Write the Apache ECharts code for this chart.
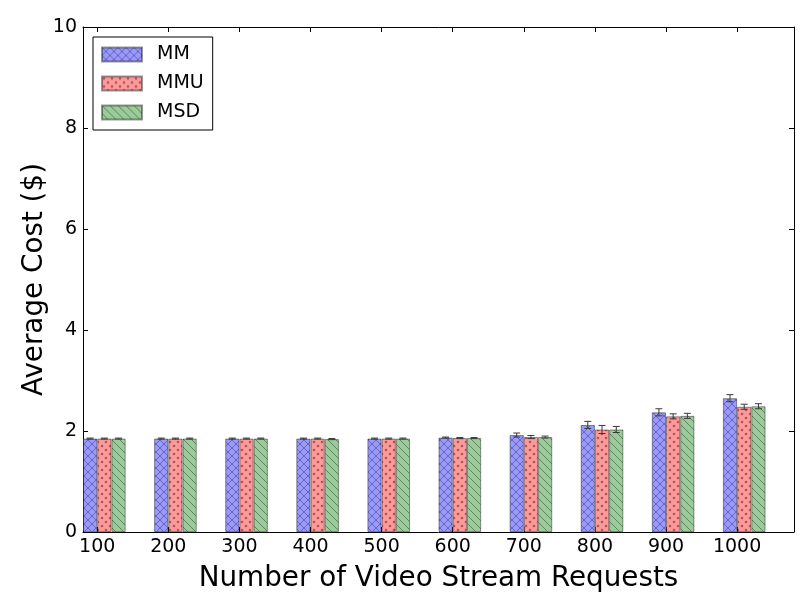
<!DOCTYPE html>
<html>
<head>
<meta charset="utf-8">
<script src="https://cdn.jsdelivr.net/npm/echarts@6/dist/echarts.min.js"></script>
<style>html,body{margin:0;padding:0;background:#fff}#c{width:812px;height:612px}</style>
</head>
<body>
<div id="c"></div>
<script>
// ---- data ----
var categories = ['100','200','300','400','500','600','700','800','900','1000'];
var seriesNames = ['MM','MMU','MSD'];
var mmValues  = [1.85,1.85,1.85,1.85,1.85,1.87,1.92,2.12,2.37,2.65];
var mmuValues = [1.85,1.85,1.85,1.85,1.85,1.86,1.88,2.03,2.29,2.48];
var msdValues = [1.85,1.85,1.85,1.84,1.85,1.86,1.88,2.03,2.30,2.49];
var mmErr  = [0.01,0.01,0.01,0.01,0.01,0.01,0.04,0.07,0.07,0.07];
var mmuErr = [0.01,0.01,0.01,0.01,0.01,0.01,0.03,0.08,0.05,0.05];
var msdErr = [0.01,0.01,0.01,0.01,0.01,0.01,0.02,0.06,0.05,0.05];
var yTicks = [0,2,4,6,8,10];

var FONT = 'DejaVu Sans';
var BAR_UNIT = 0.2;      // bar width in x-axis units
var BAR_PX = 71.1 * BAR_UNIT;

function makeTile(bg, draw) {
  var c = document.createElement('canvas');
  c.width = 8; c.height = 8;
  var g = c.getContext('2d');
  g.fillStyle = bg; g.fillRect(0,0,8,8);
  draw(g);
  return c;
}
var tileMM = makeTile('#9999ff', function(g){
  g.strokeStyle = '#6262a8'; g.lineWidth = 0.9;
  g.beginPath();
  g.moveTo(-1,-1); g.lineTo(9,9);
  g.moveTo(9,-1); g.lineTo(-1,9);
  g.stroke();
});
var tileMMU = makeTile('#ff9999', function(g){
  g.fillStyle = '#a35c5c';
  [[2,2],[6,6]].forEach(function(p){
    g.beginPath(); g.arc(p[0],p[1],1.3,0,Math.PI*2); g.fill();
  });
});
var tileMSD = makeTile('#99cc99', function(g){
  g.strokeStyle = '#5c7a5c'; g.lineWidth = 0.9;
  g.beginPath();
  g.moveTo(-1,-1); g.lineTo(9,9);
  g.moveTo(-1,7); g.lineTo(1,9);
  g.moveTo(7,-1); g.lineTo(9,1);
  g.stroke();
});

var values = [mmValues, mmuValues, msdValues];
var errs = [mmErr, mmuErr, msdErr];
var tiles = [tileMM, tileMMU, tileMSD];

var tickPos = categories.map(function(_, i){ return i + BAR_UNIT; });
var groupCenter = function(i){ return i + 1.5 * BAR_UNIT; };

var series = [];
seriesNames.forEach(function(name, k){
  series.push({
    name: name,
    type: 'bar',
    xAxisIndex: 0, yAxisIndex: 0,
    barWidth: BAR_PX,
    barGap: '0%',
    data: values[k].map(function(v, i){ return [groupCenter(i), v]; }),
    itemStyle: {
      color: { image: tiles[k], repeat: 'repeat' },
      borderColor: 'rgba(0,0,0,0.4)',
      borderWidth: 1
    },
    emphasis: { disabled: true },
    z: 2
  });
});
seriesNames.forEach(function(name, k){
  series.push({
    name: name + ' err',
    type: 'custom',
    xAxisIndex: 0, yAxisIndex: 0,
    data: values[k].map(function(v, i){ return [i, v, errs[k][i]]; }),
    renderItem: function(params, api){
      var i = api.value(0), v = api.value(1), e = api.value(2);
      var x = i + (k + 0.5) * BAR_UNIT;
      var top = api.coord([x, v + e]);
      var bot = api.coord([x, v - e]);
      var cap = 3.5;
      var st = { stroke: '#3a3a3a', lineWidth: 1 };
      return { type: 'group', children: [
        { type: 'line', shape: { x1: top[0], y1: top[1], x2: bot[0], y2: bot[1] }, style: st },
        { type: 'line', shape: { x1: top[0]-cap, y1: top[1], x2: top[0]+cap, y2: top[1] }, style: st },
        { type: 'line', shape: { x1: bot[0]-cap, y1: bot[1], x2: bot[0]+cap, y2: bot[1] }, style: st }
      ]};
    },
    z: 5,
    silent: true
  });
});

var axisLineStyle = { color: '#000', width: 1 };
var chart = echarts.init(document.getElementById('c'), null, { renderer: 'canvas' });
chart.setOption({
  animation: false,
  backgroundColor: '#fff',
  textStyle: { fontFamily: FONT },
  grid: { left: 83, right: 18, top: 27, bottom: 80, containLabel: false, outerBoundsMode: 'none' },
  legend: {
    data: seriesNames,
    orient: 'vertical',
    left: 93, top: 37,
    itemWidth: 40, itemHeight: 14, itemGap: 10,
    padding: [8, 9, 8, 8],
    backgroundColor: '#fff',
    borderColor: '#000', borderWidth: 1, borderRadius: 0,
    icon: 'rect',
    selectedMode: false,
    textStyle: { fontFamily: FONT, fontSize: 19, color: '#000', padding: [0,0,0,10], lineHeight: 19 }
  },
  xAxis: [{
    type: 'value', position: 'bottom', min: 0, max: categories.length,
    splitLine: { show: false },
    axisLine: { show: true, onZero: false, lineStyle: axisLineStyle },
    axisTick: { show: true, inside: true, length: 5, customValues: tickPos, lineStyle: { color: '#000' } },
    axisLabel: {
      customValues: tickPos, margin: 6,
      fontFamily: FONT, fontSize: 19, color: '#000',
      formatter: function(val){ return categories[Math.round(val - BAR_UNIT)]; }
    },
    name: 'Number of Video Stream Requests', nameLocation: 'middle', nameGap: 33,
    nameTextStyle: { fontFamily: FONT, fontSize: 27.8, color: '#000' }
  }, {
    type: 'value', position: 'top', min: 0, max: categories.length,
    splitLine: { show: false },
    axisLine: { show: true, onZero: false, lineStyle: axisLineStyle },
    axisTick: { show: true, inside: true, length: 5, customValues: tickPos, lineStyle: { color: '#000' } },
    axisLabel: { show: false }
  }],
  yAxis: [{
    type: 'value', position: 'left', min: 0, max: 10, interval: 2,
    splitLine: { show: false },
    axisLine: { show: true, onZero: false, lineStyle: axisLineStyle },
    axisTick: { show: true, inside: true, length: 5, lineStyle: { color: '#000' } },
    axisLabel: { margin: 6, fontFamily: FONT, fontSize: 19, color: '#000',
      formatter: function(v){ return yTicks.indexOf(v) >= 0 ? String(v) : ''; } },
    name: 'Average Cost ($)', nameLocation: 'middle', nameGap: 34, nameMoveOverlap: false,
    nameTextStyle: { fontFamily: FONT, fontSize: 27.8, color: '#000' }
  }, {
    type: 'value', position: 'right', min: 0, max: 10, interval: 2,
    splitLine: { show: false },
    axisLine: { show: true, onZero: false, lineStyle: axisLineStyle },
    axisTick: { show: true, inside: true, length: 5, lineStyle: { color: '#000' } },
    axisLabel: { show: false }
  }],
  series: series
});
</script>
</body>
</html>
